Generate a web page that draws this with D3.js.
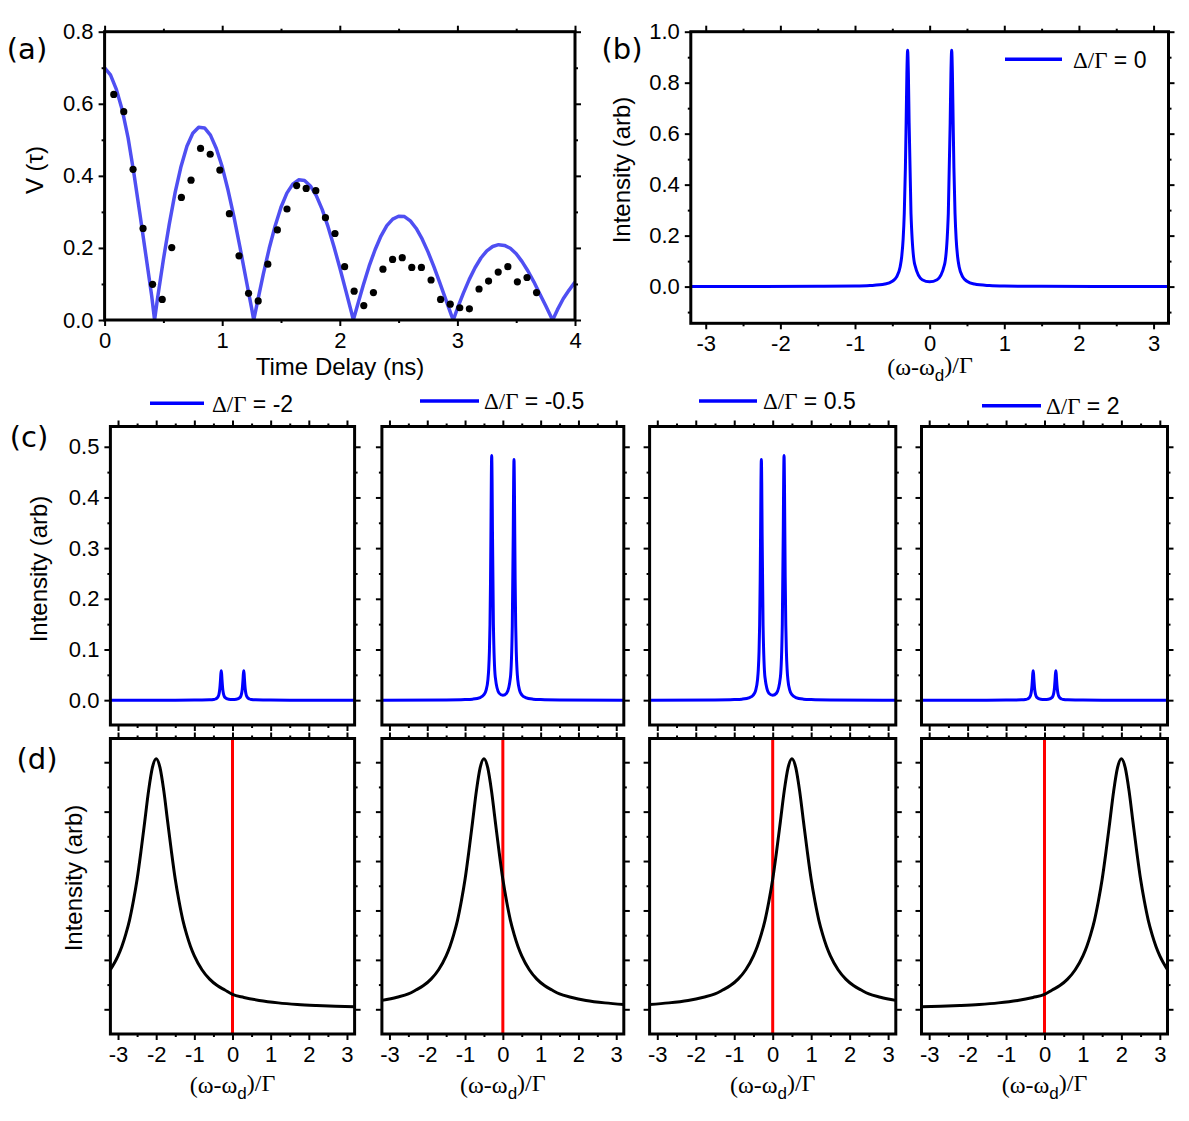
<!DOCTYPE html>
<html><head><meta charset="utf-8">
<script src="https://cdn.jsdelivr.net/npm/d3@7"></script>
<style>
body{margin:0;background:#fff}
svg{display:block}
</style>
</head><body>
<script>
// ---------------- DATA ----------------
// (a) measured visibility (dots) and model line
const dotT = [0.078,0.163,0.242,0.327,0.408,0.490,0.571,0.653,0.735,0.816,0.898,0.980,1.061,1.143,1.224,1.306,1.388,1.469,1.551,1.633,1.714,1.796,1.878,1.959,2.041,2.122,2.204,2.286,2.367,2.449,2.531,2.612,2.694,2.776,2.857,2.939,3.020,3.102,3.184,3.265,3.347,3.429,3.510,3.592,3.673];
const dotV = [0.626,0.578,0.418,0.254,0.099,0.057,0.201,0.340,0.388,0.476,0.460,0.416,0.295,0.178,0.074,0.053,0.155,0.250,0.308,0.373,0.365,0.359,0.284,0.240,0.148,0.080,0.040,0.076,0.141,0.168,0.173,0.146,0.146,0.111,0.057,0.044,0.034,0.031,0.086,0.108,0.133,0.148,0.106,0.118,0.076];
const lineT = [0,0.05,0.10,0.15,0.20,0.25,0.30,0.35,0.40,0.425,0.45,0.50,0.55,0.60,0.65,0.70,0.75,0.80,0.85,0.90,0.95,1.00,1.05,1.10,1.15,1.20,1.25,1.268,1.30,1.35,1.40,1.45,1.50,1.55,1.60,1.65,1.70,1.75,1.80,1.85,1.90,1.95,2.00,2.05,2.10,2.115,2.15,2.20,2.25,2.30,2.35,2.40,2.45,2.50,2.55,2.60,2.65,2.70,2.75,2.80,2.85,2.90,2.95,2.965,3.00,3.05,3.10,3.15,3.20,3.25,3.30,3.35,3.40,3.45,3.50,3.55,3.60,3.65,3.70,3.75,3.80,3.81,3.85,3.90,3.95,4.00];
const lineV = [0.700,0.680,0.640,0.583,0.505,0.405,0.295,0.182,0.068,0.000,0.060,0.168,0.266,0.354,0.426,0.482,0.518,0.535,0.533,0.513,0.476,0.425,0.360,0.286,0.204,0.118,0.033,0.000,0.050,0.128,0.199,0.261,0.313,0.352,0.377,0.389,0.387,0.372,0.345,0.307,0.259,0.204,0.145,0.083,0.020,0.000,0.040,0.097,0.150,0.195,0.233,0.262,0.280,0.288,0.287,0.275,0.254,0.225,0.189,0.148,0.104,0.058,0.012,0.000,0.032,0.074,0.112,0.145,0.172,0.192,0.204,0.209,0.207,0.199,0.184,0.162,0.136,0.106,0.073,0.040,0.006,0.000,0.028,0.059,0.083,0.105];

// (b),(c) emission spectra, shared frequency grid
const specX = [-3.2,-1.5,-1.0,-0.8,-0.6,-0.5,-0.445,-0.395,-0.375,-0.355,-0.34,-0.325,-0.315,-0.305,-0.295,-0.285,-0.275,-0.25,-0.2,-0.1,0,0.1,0.2,0.25,0.275,0.285,0.295,0.305,0.315,0.325,0.34,0.355,0.375,0.395,0.445,0.5,0.6,0.8,1.0,1.5,3.2];
const specB = [0.000,0.001,0.002,0.004,0.010,0.021,0.037,0.078,0.116,0.187,0.287,0.465,0.643,0.835,0.927,0.835,0.643,0.287,0.087,0.027,0.019,0.027,0.087,0.287,0.643,0.835,0.927,0.835,0.643,0.465,0.287,0.187,0.116,0.078,0.037,0.021,0.010,0.004,0.002,0.001,0.000];
const specC1 = [0,0,0.0001,0.0002,0.0006,0.0013,0.0023,0.0049,0.0073,0.0117,0.018,0.029,0.040,0.052,0.058,0.052,0.040,0.018,0.0055,0.0017,0.0012,0.0017,0.0055,0.018,0.040,0.052,0.058,0.052,0.040,0.029,0.018,0.0117,0.0073,0.0049,0.0023,0.0013,0.0006,0.0002,0.0001,0,0];
const specC2 = [0,0.0004,0.0011,0.002,0.0052,0.0108,0.0193,0.0407,0.0604,0.0974,0.1495,0.242,0.335,0.435,0.483,0.435,0.335,0.150,0.0455,0.0139,0.0097,0.0137,0.0447,0.147,0.3295,0.428,0.475,0.428,0.329,0.238,0.147,0.0958,0.0594,0.040,0.019,0.0106,0.0051,0.002,0.0011,0.0004,0];
const specC3 = [0,0.0004,0.0011,0.002,0.0051,0.0106,0.019,0.040,0.0594,0.0958,0.147,0.238,0.329,0.428,0.475,0.428,0.3295,0.147,0.0447,0.0137,0.0097,0.0139,0.0455,0.150,0.335,0.435,0.483,0.435,0.335,0.242,0.1495,0.0974,0.0604,0.0407,0.0193,0.0108,0.0052,0.002,0.0011,0.0004,0];
const specC4 = [0,0,0.0001,0.0002,0.0006,0.0013,0.0023,0.0049,0.0073,0.0117,0.018,0.029,0.040,0.052,0.058,0.052,0.040,0.018,0.0055,0.0017,0.0012,0.0017,0.0055,0.018,0.040,0.052,0.058,0.052,0.040,0.029,0.018,0.0117,0.0073,0.0049,0.0023,0.0013,0.0006,0.0002,0.0001,0,0];

// (d) cavity / filter lineshapes (arb units)
const d1X = [-3.2,-3.0,-2.9,-2.8,-2.7,-2.6,-2.5,-2.4,-2.3,-2.2,-2.1,-2.0,-1.9,-1.8,-1.7,-1.6,-1.5,-1.4,-1.3,-1.2,-1.1,-1.0,-0.8,-0.6,-0.4,-0.2,0.0,0.3,0.7,1.2,1.7,2.2,2.7,3.2];
const d1Y = [0.80,1.08,1.27,1.51,1.80,2.18,2.63,3.19,3.80,4.42,4.89,5.07,4.89,4.42,3.80,3.19,2.63,2.18,1.80,1.51,1.27,1.08,0.80,0.61,0.48,0.39,0.30,0.24,0.18,0.13,0.098,0.077,0.061,0.05];
const d2X = [-3.2,-2.8,-2.5,-2.3,-2.1,-1.9,-1.7,-1.5,-1.4,-1.3,-1.2,-1.1,-1.0,-0.9,-0.8,-0.7,-0.6,-0.5,-0.4,-0.3,-0.2,-0.1,0.0,0.1,0.2,0.3,0.4,0.5,0.7,0.9,1.1,1.3,1.5,1.8,2.2,2.7,3.2];
const d2Y = [0.18,0.245,0.31,0.39,0.48,0.61,0.80,1.08,1.27,1.51,1.80,2.18,2.63,3.19,3.80,4.42,4.89,5.07,4.89,4.42,3.80,3.19,2.63,2.18,1.80,1.51,1.27,1.08,0.80,0.61,0.48,0.39,0.31,0.245,0.18,0.13,0.098];
const d3X = [-3.2,-2.7,-2.2,-1.8,-1.5,-1.3,-1.1,-0.9,-0.7,-0.5,-0.4,-0.3,-0.2,-0.1,0.0,0.1,0.2,0.3,0.4,0.5,0.6,0.7,0.8,0.9,1.0,1.1,1.2,1.3,1.4,1.5,1.7,1.9,2.1,2.3,2.5,2.8,3.2];
const d3Y = [0.098,0.13,0.18,0.245,0.31,0.39,0.48,0.61,0.80,1.08,1.27,1.51,1.80,2.18,2.63,3.19,3.80,4.42,4.89,5.07,4.89,4.42,3.80,3.19,2.63,2.18,1.80,1.51,1.27,1.08,0.80,0.61,0.48,0.39,0.31,0.245,0.18];
const d4X = [-3.2,-2.7,-2.2,-1.7,-1.2,-0.7,-0.3,0.0,0.2,0.4,0.6,0.8,1.0,1.1,1.2,1.3,1.4,1.5,1.6,1.7,1.8,1.9,2.0,2.1,2.2,2.3,2.4,2.5,2.6,2.7,2.8,2.9,3.0,3.2];
const d4Y = [0.05,0.061,0.077,0.098,0.13,0.18,0.24,0.30,0.39,0.48,0.61,0.80,1.08,1.27,1.51,1.80,2.18,2.63,3.19,3.80,4.42,4.89,5.07,4.89,4.42,3.80,3.19,2.63,2.18,1.80,1.51,1.27,1.08,0.80];

// legends / tick labels
const detuningLabels = ["-2","-0.5","0.5","2"];
const legendB = "0";
const freqTicks = [-3,-2,-1,0,1,2,3];
const freqMinor = [-2.5,-1.5,-0.5,0.5,1.5,2.5];
const timeTicks = [0,1,2,3,4];
const timeMinor = [0.5,1.5,2.5,3.5];

// ---------------- DRAWING ----------------
const SANS = '"Liberation Sans", Arial, sans-serif';
const SERIF = '"Liberation Serif", "Times New Roman", serif';
const svg = d3.select("body").append("svg").attr("width",1189).attr("height",1121);
svg.append("rect").attr("width",1189).attr("height",1121).attr("fill","#fff");
let clipN = 0;
const plain = d => String(d);

function panel(o){
  const x = d3.scaleLinear().domain(o.xd).range([o.l,o.r]);
  const y = d3.scaleLinear().domain(o.yd).range([o.b,o.t]);
  const g = svg.append("g");
  const id = "clip"+(clipN++);
  svg.append("clipPath").attr("id",id).append("rect")
     .attr("x",o.l).attr("y",o.t).attr("width",o.r-o.l).attr("height",o.b-o.t);
  const defs = [
    [d3.axisBottom, x, `translate(0,${o.b})`, o.xMaj, o.xMin, o.xLab ? (o.xFmt||plain) : null],
    [d3.axisTop, x, `translate(0,${o.t})`, o.xMaj, o.xMin, null],
    [d3.axisLeft, y, `translate(${o.l},0)`, o.yMaj, o.yMin, o.yLab ? (o.yFmt||plain) : null],
    [d3.axisRight, y, `translate(${o.r},0)`, o.yMaj, o.yMin, null]
  ];
  defs.forEach(([fn, sc, tr, maj, min, fmt])=>{
    const a1 = fn(sc).tickValues(maj).tickSize(6).tickSizeOuter(0).tickPadding(fn===d3.axisLeft?5:6)
                .tickFormat(fmt ? fmt : ()=> "");
    const ga = g.append("g").attr("transform",tr).call(a1);
    ga.select(".domain").remove();
    ga.selectAll("line").attr("stroke","#000").attr("stroke-width",2);
    ga.selectAll("text").attr("font-family",SANS).attr("font-size",22).attr("fill","#000");
    const a2 = fn(sc).tickValues(min).tickSize(3).tickSizeOuter(0).tickFormat(()=> "");
    const gb = g.append("g").attr("transform",tr).call(a2);
    gb.select(".domain").remove();
    gb.selectAll("line").attr("stroke","#000").attr("stroke-width",2);
  });
  const plot = g.append("g").attr("clip-path",`url(#${id})`);
  g.append("rect").attr("x",o.l).attr("y",o.t).attr("width",o.r-o.l).attr("height",o.b-o.t)
    .attr("fill","none").attr("stroke","#000").attr("stroke-width",3);
  return {x,y,plot,g};
}

function drawLine(p, xs, ys, color, w, curve){
  const pts = xs.map((v,i)=>[v,ys[i]]);
  p.plot.append("path").datum(pts)
    .attr("d", d3.line().x(d=>p.x(d[0])).y(d=>p.y(d[1])).curve(curve||d3.curveLinear))
    .attr("fill","none").attr("stroke",color).attr("stroke-width",w).attr("stroke-linejoin","round");
}

function vText(cx, cy, txt, size){
  svg.append("text").attr("transform",`translate(${cx},${cy}) rotate(-90)`)
    .attr("text-anchor","middle").attr("dy","0.35em")
    .attr("font-family",SANS).attr("font-size",size).attr("fill","#000").text(txt);
}
function hText(cx, cy, txt, size, fam){
  svg.append("text").attr("x",cx).attr("y",cy).attr("text-anchor","middle").attr("dy","0.35em")
    .attr("font-family",fam||SANS).attr("font-size",size).attr("fill","#000").text(txt);
}
function freqTitle(cx, cy){
  const t = svg.append("text").attr("x",cx).attr("y",cy).attr("text-anchor","middle").attr("dy","0.35em")
    .attr("font-family",SERIF).attr("font-size",24).attr("fill","#000");
  t.append("tspan").text("(ω-ω");
  t.append("tspan").attr("font-family",SANS).attr("font-size",17).attr("dy","0.3em").text("d");
  t.append("tspan").attr("dy","-0.3em").text(")/Γ");
}
function legend(x1, x2, yy, tx, val){
  svg.append("line").attr("x1",x1).attr("x2",x2).attr("y1",yy).attr("y2",yy)
    .attr("stroke","#0000ff").attr("stroke-width",3.5);
  const t = svg.append("text").attr("x",tx).attr("y",yy).attr("dy","0.36em")
    .attr("font-size",23).attr("fill","#000");
  t.append("tspan").attr("font-family",SERIF).text("Δ/Γ");
  t.append("tspan").attr("font-family",SANS).text(" = "+val);
}

// ----- panel (a)
const pa = panel({l:104.6,r:575,t:31.7,b:320,xd:[0,4],yd:[0,0.8],
  xMaj:timeTicks,xMin:timeMinor,yMaj:[0,0.2,0.4,0.6,0.8],yMin:[0.1,0.3,0.5,0.7],
  xLab:true,yLab:true,yFmt:d3.format(".1f")});
drawLine(pa, lineT, lineV, "#4f4ff2", 3.5);
pa.plot.selectAll("circle.dot").data(dotT.map((t,i)=>[t,dotV[i]])).enter().append("circle")
  .attr("cx",d=>pa.x(d[0])).attr("cy",d=>pa.y(d[1])).attr("r",3.6).attr("fill","#000");
hText(340,367,"Time Delay (ns)",24);
vText(35,170,"V (τ)",24);
hText(27,49,"(a)",29,'"DejaVu Sans", sans-serif');

// ----- panel (b)
const pb = panel({l:690.8,r:1168.5,t:31.7,b:323.3,xd:[-3.2,3.2],yd:[-0.144,1.0],
  xMaj:freqTicks,xMin:freqMinor,yMaj:[0,0.2,0.4,0.6,0.8,1.0],yMin:[-0.1,0.1,0.3,0.5,0.7,0.9],
  xLab:true,yLab:true,yFmt:d3.format(".1f")});
drawLine(pb, specX, specB, "#0000ff", 3, d3.curveMonotoneX);
freqTitle(930,367);
vText(622,170,"Intensity (arb)",24);
hText(622,49,"(b)",29,'"DejaVu Sans", sans-serif');
legend(1005,1062,59.3,1073,legendB);

// ----- panels (c) and (d)
const cols = [[110.4,354.6],[381.9,623.8],[649.6,895.8],[921.5,1167.5]];
const cSeries = [specC1,specC2,specC3,specC4];
const dSeries = [[d1X,d1Y],[d2X,d2Y],[d3X,d3Y],[d4X,d4Y]];
const legPos = [[150,204,403.3,212],[420,479,401,484],[699,757,401,763],[982,1041,405.7,1046]];
cols.forEach(([l,r],i)=>{
  const pc = panel({l:l,r:r,t:426.5,b:725,xd:[-3.2,3.2],yd:[-0.049,0.54],
    xMaj:freqTicks,xMin:freqMinor,yMaj:[0,0.1,0.2,0.3,0.4,0.5],yMin:[0.05,0.15,0.25,0.35,0.45],
    xLab:false,yLab:i===0,yFmt:d3.format(".1f")});
  drawLine(pc, specX, cSeries[i], "#0000ff", 3, d3.curveMonotoneX);
  const pd = panel({l:l,r:r,t:738.5,b:1034,xd:[-3.2,3.2],yd:[-0.5,5.48],
    xMaj:freqTicks,xMin:freqMinor,yMaj:[0,1,2,3,4,5],yMin:[0.5,1.5,2.5,3.5,4.5],
    xLab:true,yLab:false});
  pd.plot.append("line").attr("x1",pd.x(0)).attr("x2",pd.x(0)).attr("y1",738.5).attr("y2",1034)
    .attr("stroke","#ff0000").attr("stroke-width",3);
  drawLine(pd, dSeries[i][0], dSeries[i][1], "#000", 3, d3.curveMonotoneX);
  freqTitle((l+r)/2, 1085);
  const lp = legPos[i];
  legend(lp[0],lp[1],lp[2],lp[3],detuningLabels[i]);
});
vText(39,569,"Intensity (arb)",24);
vText(74,878,"Intensity (arb)",24);
hText(29,437,"(c)",29,'"DejaVu Sans", sans-serif');
hText(37,759,"(d)",29,'"DejaVu Sans", sans-serif');
</script>
</body></html>
